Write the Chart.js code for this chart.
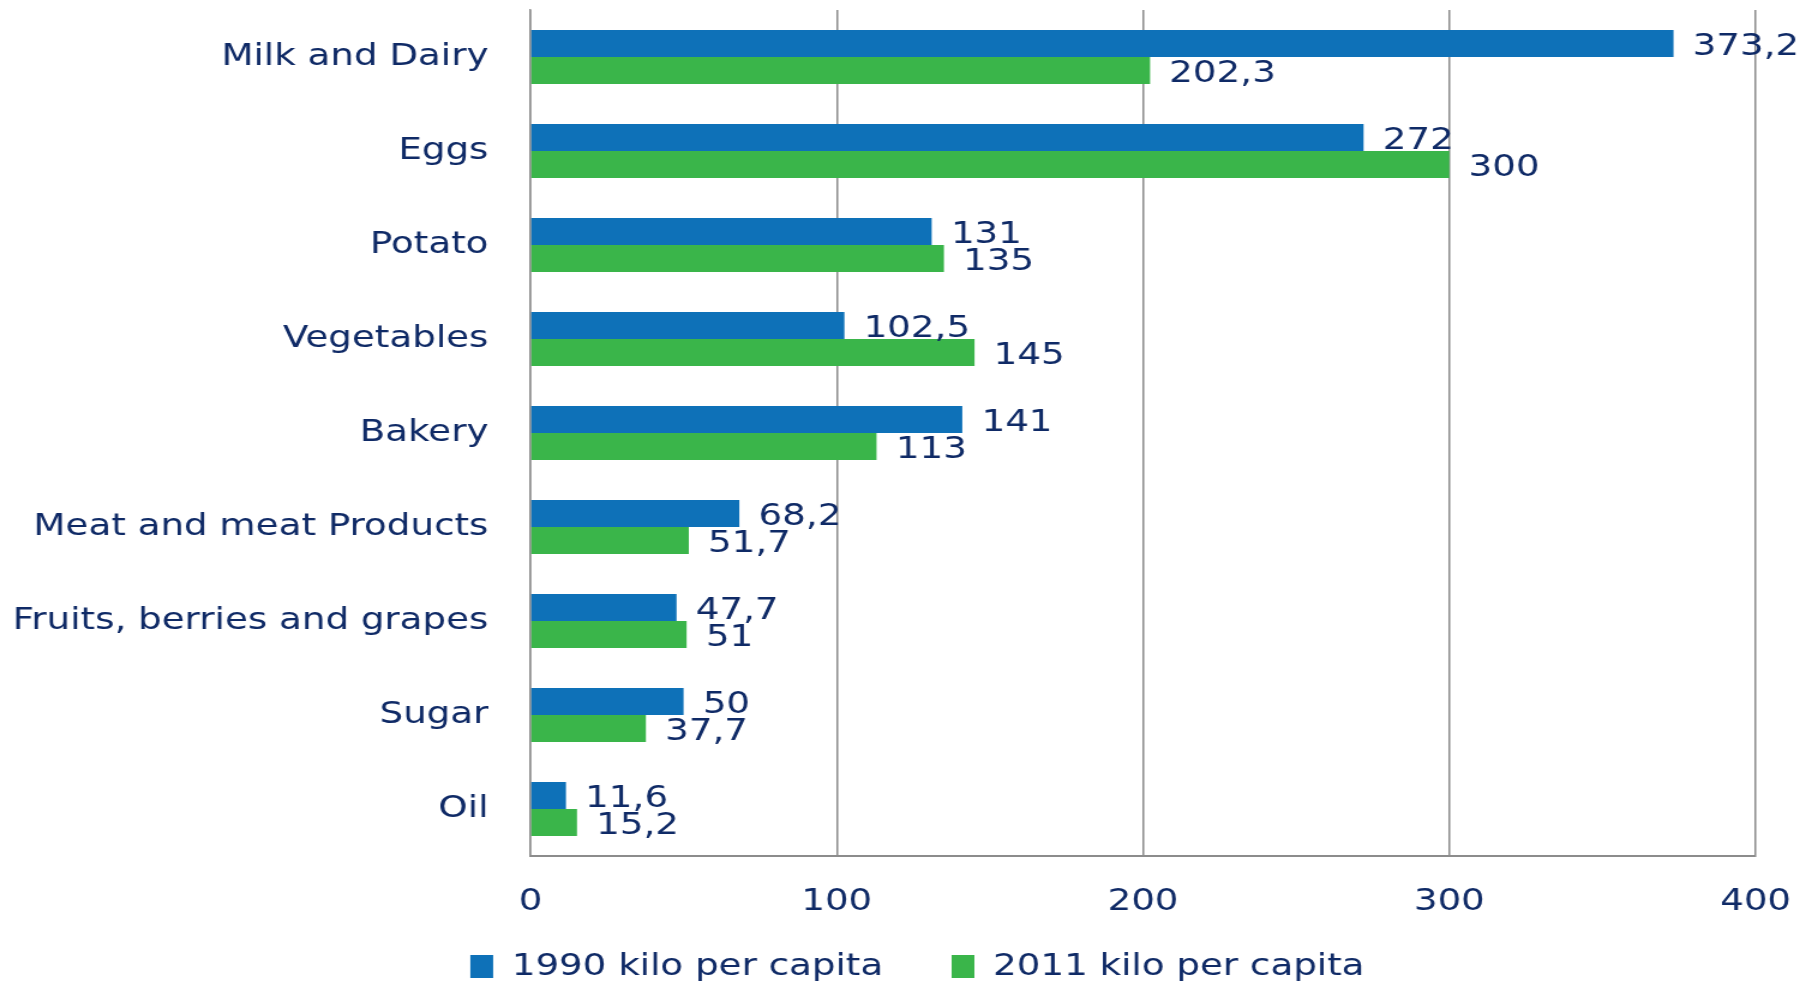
<!DOCTYPE html>
<html>
<head>
<meta charset="utf-8">
<script src="https://cdn.jsdelivr.net/npm/chart.js@4"></script>
<style>
  html, body { margin: 0; padding: 0; background: #ffffff; overflow: hidden; }
  #wrap { width: 1814px; height: 982px; }
  /* the chart is drawn narrower and widened on screen, giving the broad lettering */
  #foodChart { transform: scaleX(1.2); transform-origin: 0 0; }
</style>
</head>
<body>
<div id="wrap"><canvas id="foodChart" width="1512" height="982"></canvas></div>
<script>
// consumption per capita, kg
const categories = [
  "Milk and Dairy",
  "Eggs",
  "Potato",
  "Vegetables",
  "Bakery",
  "Meat and meat Products",
  "Fruits, berries and grapes",
  "Sugar",
  "Oil",
];
const kilo1990 = [373.2, 272, 131, 102.5, 141, 68.2, 47.7, 50, 11.6];
const kilo2011 = [202.3, 300, 135, 145, 113, 51.7, 51, 37.7, 15.2];
const seriesNames = ["1990 kilo per capita", "2011 kilo per capita"];
const xTicks = [0, 100, 200, 300, 400];

const navy = "#0f2a66";
const gridGrey = "#8c8c8c";
const fontFamily = "'DejaVu Sans', sans-serif";
const fontSize = 31;

// numbers written with a decimal comma
const fmt = (v) => String(v).replace(".", ",");

// value next to the end of each bar
const barValues = {
  id: "barValues",
  afterDatasetsDraw(chart) {
    const ctx = chart.ctx;
    ctx.save();
    ctx.font = fontSize + "px " + fontFamily;
    ctx.fillStyle = navy;
    ctx.textAlign = "left";
    ctx.textBaseline = "middle";
    chart.data.datasets.forEach((ds, i) => {
      const meta = chart.getDatasetMeta(i);
      meta.data.forEach((bar, j) => {
        ctx.fillText(fmt(ds.data[j]), bar.x + 16, bar.y + 3);
      });
    });
    ctx.restore();
  },
};

// legend sits a bit higher than the box layout would put it,
// so the tick labels keep their own room below the axis
const legendPlacement = {
  id: "legendPlacement",
  afterLayout(chart) {
    const lg = chart.legend;
    lg.top = 894;
    lg.bottom = chart.height;
    lg.height = lg.bottom - lg.top;
    lg.left += 33;
    lg.right += 33;
  },
};

const ctx = document.getElementById("foodChart").getContext("2d");
const foodChart = new Chart(ctx, {
  type: "bar",
  data: {
    labels: categories,
    datasets: [
      {
        label: seriesNames[0],
        data: kilo1990,
        backgroundColor: "#0e71b8",
        categoryPercentage: 0.575,
        barPercentage: 1.0,
      },
      {
        label: seriesNames[1],
        data: kilo2011,
        backgroundColor: "#3ab54a",
        categoryPercentage: 0.575,
        barPercentage: 1.0,
      },
    ],
  },
  options: {
    indexAxis: "y",
    responsive: false,
    animation: false,
    layout: {
      padding: { left: 0, right: 49, top: 10, bottom: 0 },
    },
    plugins: {
      tooltip: { enabled: false },
      legend: {
        position: "bottom",
        maxHeight: 56,
        labels: {
          color: navy,
          font: { family: fontFamily, size: fontSize },
          boxWidth: 19,
          boxHeight: 23,
          padding: 57,
        },
      },
    },
    scales: {
      x: {
        type: "linear",
        min: 0,
        max: 400,
        afterBuildTicks: (scale) => {
          scale.ticks = xTicks.map((v) => ({ value: v }));
        },
        afterFit: (scale) => {
          scale.height = 70;
          scale.paddingLeft = 0;
          scale.paddingRight = 0;
        },
        grid: {
          color: gridGrey,
          lineWidth: 1.5,
          drawTicks: false,
        },
        border: { display: true, color: gridGrey, width: 2 },
        ticks: {
          color: navy,
          font: { family: fontFamily, size: fontSize },
          padding: 27,
        },
      },
      y: {
        afterFit: (scale) => {
          scale.width = 442;
          scale.paddingTop = 0;
          scale.paddingBottom = 0;
        },
        grid: { display: false, drawTicks: false },
        border: { display: true, color: gridGrey, width: 1.5 },
        ticks: {
          color: navy,
          font: { family: fontFamily, size: fontSize },
          padding: 35,
        },
      },
    },
  },
  plugins: [barValues, legendPlacement],
});
</script>
</body>
</html>
